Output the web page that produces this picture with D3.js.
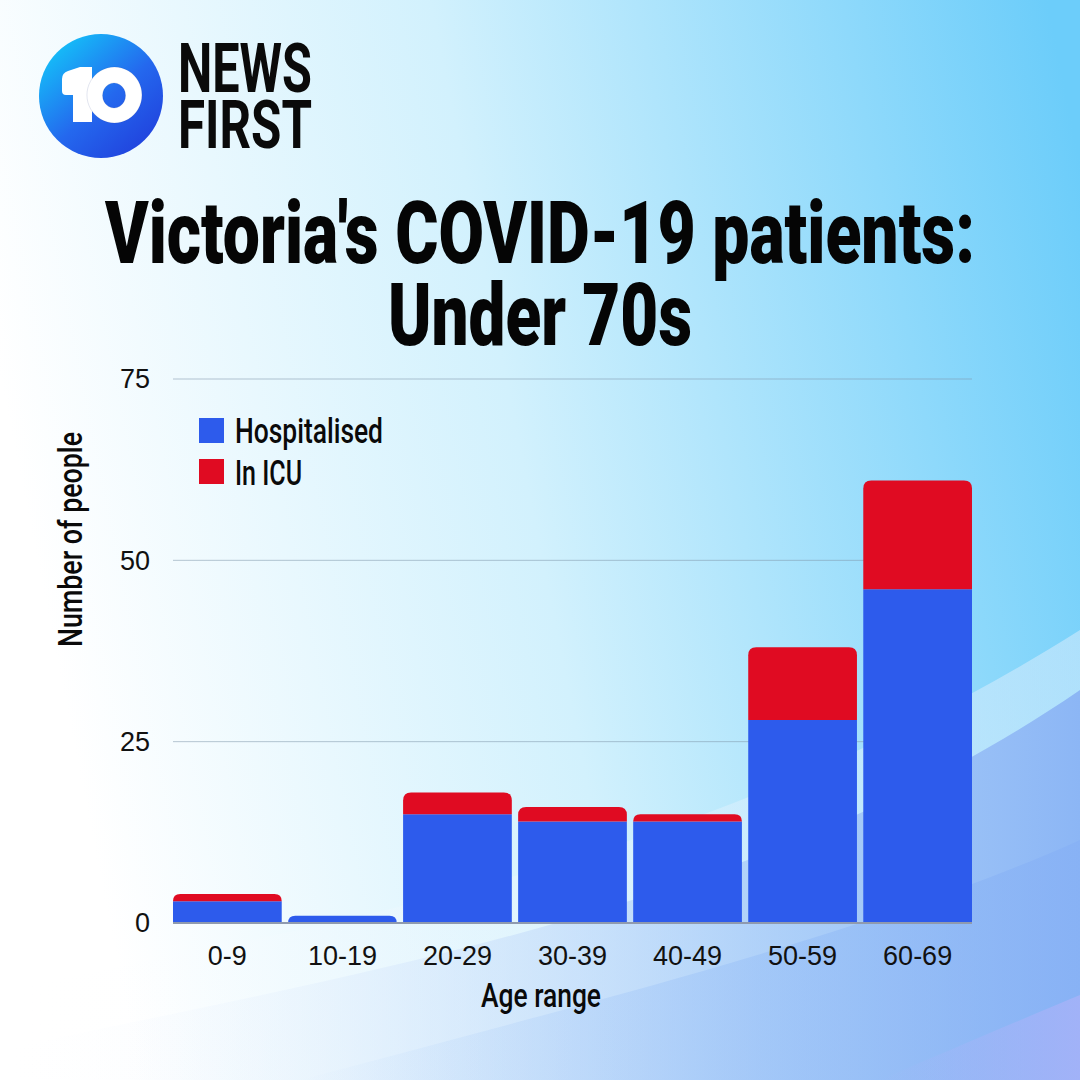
<!DOCTYPE html>
<html><head><meta charset="utf-8">
<script src="https://cdn.jsdelivr.net/npm/d3@7"></script>
<style>html,body{margin:0;padding:0;background:#fff}svg{display:block}</style>
</head><body>
<svg id="chart" width="1080" height="1080"></svg>
<script>
const categories = ["0-9","10-19","20-29","30-39","40-49","50-59","60-69"];
const hospitalised = [3,1,15,14,14,28,46];
const icu = [1,0,3,2,1,10,15];
const seriesNames = ["Hospitalised","In ICU"];
const yTicks = [0,25,50,75];
const titleLines = ["Victoria's COVID-19 patients:","Under 70s"];
const colors = {"Hospitalised":"#2d5bec","In ICU":"#e00b22"};

const svg = d3.select("#chart");
const defs = svg.append("defs");

// background
const bg = defs.append("linearGradient").attr("id","bg").attr("x1","0").attr("y1","0.35").attr("x2","1").attr("y2","0.15");
bg.append("stop").attr("offset","0").attr("stop-color","#ffffff");
bg.append("stop").attr("offset","0.45").attr("stop-color","#d2f1fd");
bg.append("stop").attr("offset","1").attr("stop-color","#6ccdfa");
svg.append("rect").attr("width",1080).attr("height",1080).attr("fill","url(#bg)");

function hGrad(id, stops){
  const gr = defs.append("linearGradient").attr("id",id).attr("x1","0").attr("y1","0").attr("x2","1").attr("y2","0");
  stops.forEach(s=>gr.append("stop").attr("offset",s[0]).attr("stop-color",s[1]).attr("stop-opacity",s[2]));
}
hGrad("w1",[[0,"#ffffff",0],[0.5,"#eef6fe",0.35],[1,"#d8ecfd",0.55]]);
hGrad("w2",[[0,"#ffffff",0],[0.35,"#d9e9fc",0.5],[0.7,"#a9cbf8",0.8],[1,"#8cb6f5",1]]);
hGrad("w3",[[0,"#9cc2f7",0],[0.6,"#8fb9f6",0.4],[1,"#86b0f5",0.7]]);
hGrad("w4",[[0,"#a9b6f8",0],[1,"#a4b2f8",0.9]]);
svg.append("path").attr("d","M0,990 C300,930 700,870 1080,630 L1080,1080 L0,1080 Z").attr("fill","url(#w1)");
svg.append("path").attr("d","M0,1050 C350,975 760,910 1080,690 L1080,1080 L0,1080 Z").attr("fill","url(#w2)");
svg.append("path").attr("d","M300,1080 C600,1000 880,930 1080,840 L1080,1080 Z").attr("fill","url(#w3)");
svg.append("path").attr("d","M880,1080 C950,1050 1020,1020 1080,995 L1080,1080 Z").attr("fill","url(#w4)");

// logo
const lg = defs.append("linearGradient").attr("id","logo").attr("x1","0.15").attr("y1","0.1").attr("x2","0.85").attr("y2","0.9");
lg.append("stop").attr("offset","0").attr("stop-color","#15bdf8");
lg.append("stop").attr("offset","0.55").attr("stop-color","#2468ee");
lg.append("stop").attr("offset","1").attr("stop-color","#2144de");
svg.append("circle").attr("cx",101).attr("cy",96).attr("r",62).attr("fill","url(#logo)");
svg.append("path").attr("d","M62,79 Q62,73 68,71 L80,67 L92,67 L92,122 L73,122 L73,95 L66,95 Q62,95 62,91 Z").attr("fill","#fff");
svg.append("path").attr("fill-rule","evenodd").attr("fill","#fff").attr("stroke","rgba(20,40,120,0.12)").attr("stroke-width",1)
  .attr("d","M114.5,67 A27.5,28 0 1 1 114.4,67 Z M114,83 A11.5,12.5 0 1 0 114.1,83 Z");
const logoText = svg.append("g").attr("font-family","Roboto, sans-serif").attr("font-weight",700).attr("fill","#0a0a0a");
logoText.append("text").attr("x",178).attr("y",92).attr("font-size",68).attr("textLength",134).attr("lengthAdjust","spacingAndGlyphs").text("NEWS");
logoText.append("text").attr("x",178).attr("y",148).attr("font-size",66).attr("textLength",134).attr("lengthAdjust","spacingAndGlyphs").text("FIRST");

// title
const title = svg.append("g").attr("font-family","Roboto, sans-serif").attr("font-weight",900).attr("fill","#050505");
title.append("text").attr("x",105).attr("y",263).attr("font-size",87).attr("textLength",870).attr("lengthAdjust","spacingAndGlyphs").text(titleLines[0]);
title.append("text").attr("x",388).attr("y",345).attr("font-size",87).attr("textLength",304).attr("lengthAdjust","spacingAndGlyphs").text(titleLines[1]);

// chart
const x = d3.scaleBand().domain(categories).range([173,972]).paddingInner(0.055).paddingOuter(0);
const y = d3.scaleLinear().domain([0,75]).range([923,379]);

const g = svg.append("g");
g.selectAll("line.grid").data(yTicks.filter(t=>t>0)).join("line")
  .attr("x1",173).attr("x2",972).attr("y1",d=>y(d)).attr("y2",d=>y(d))
  .attr("stroke","#7f98ac").attr("stroke-opacity",0.55).attr("stroke-width",1);

g.selectAll("text.ytick").data(yTicks).join("text")
  .attr("x",150).attr("y",d=>y(d)).attr("dy","0.35em").attr("text-anchor","end")
  .attr("font-family","'Liberation Sans', Arial, sans-serif").attr("font-size",27).attr("fill","#111").text(d=>d);

const rows = categories.map((c,i)=>({cat:c,"Hospitalised":hospitalised[i],"In ICU":icu[i]}));
const stack = d3.stack().keys(seriesNames)(rows);

function segPath(x0,w,yTop,yBot,r){
  if(r<=0) return `M${x0},${yBot}V${yTop}H${x0+w}V${yBot}Z`;
  r=Math.min(r,(yBot-yTop),w/2);
  return `M${x0},${yBot}V${yTop+r}Q${x0},${yTop} ${x0+r},${yTop}H${x0+w-r}Q${x0+w},${yTop} ${x0+w},${yTop+r}V${yBot}Z`;
}
stack.forEach((layer,li)=>{
  g.append("g").selectAll("path").data(layer).join("path")
    .attr("fill",colors[layer.key])
    .attr("d",d=>{
      if(d[1]-d[0]<=0) return null;
      const isTop = stack.slice(li+1).every(l=>{const dd=l[layer.indexOf(d)];return dd[1]-dd[0]<=0;});
      return segPath(x(d.data.cat),x.bandwidth(),y(d[1]),y(d[0]),isTop?8:0);
    });
});

g.append("line").attr("x1",173).attr("x2",972).attr("y1",y(0)).attr("y2",y(0)).attr("stroke","#8f9aae").attr("stroke-width",2);

g.selectAll("text.xtick").data(categories).join("text")
  .attr("x",d=>x(d)+x.bandwidth()/2).attr("y",965).attr("text-anchor","middle")
  .attr("font-family","'Liberation Sans', Arial, sans-serif").attr("font-size",27).attr("fill","#111").text(d=>d);

// axis titles
svg.append("text").attr("x",481).attr("y",1007).attr("font-family","Roboto, sans-serif").attr("font-weight",500)
  .attr("font-size",33).attr("textLength",120).attr("lengthAdjust","spacingAndGlyphs").attr("fill","#0a0a0a").text("Age range");
svg.append("text").attr("transform","translate(82,647) rotate(-90)").attr("x",0).attr("y",0)
  .attr("font-family","Roboto, sans-serif").attr("font-weight",500).attr("font-size",33)
  .attr("textLength",215).attr("lengthAdjust","spacingAndGlyphs").attr("fill","#0a0a0a").text("Number of people");

// legend
const leg = svg.append("g");
seriesNames.forEach((s,i)=>{
  leg.append("rect").attr("x",199).attr("y",418+i*41).attr("width",25).attr("height",25).attr("fill",colors[s]);
  leg.append("text").attr("x",235).attr("y",443+i*42).attr("font-family","Roboto, sans-serif").attr("font-weight",500)
    .attr("font-size",35).attr("textLength",i===0?148:67).attr("lengthAdjust","spacingAndGlyphs").attr("fill","#0a0a0a").text(s);
});
</script>
</body></html>
